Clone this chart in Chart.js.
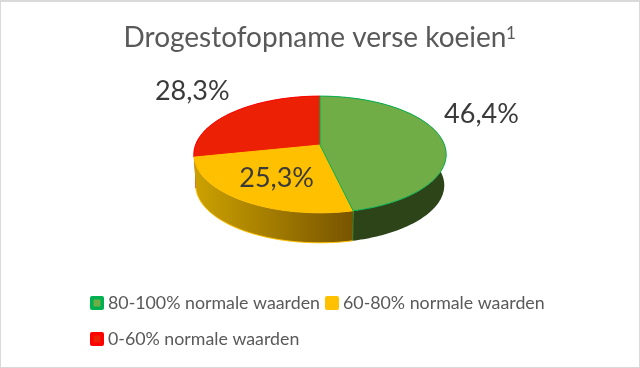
<!DOCTYPE html>
<html>
<head>
<meta charset="utf-8">
<style>
html,body{margin:0;padding:0;background:#fff;}
#w{position:relative;width:640px;height:368px;overflow:hidden;}
#w:after{content:"";position:absolute;inset:0;border:1px solid #d9d9d9;border-top-width:2px;pointer-events:none;}
canvas{display:block;}
</style>
<script src="https://cdn.jsdelivr.net/npm/chart.js@4"></script>
</head>
<body>
<div id="w"><canvas id="c" width="640" height="368"></canvas></div>
<script>
const categories = ["80-100% normale waarden", "60-80% normale waarden", "0-60% normale waarden"];
const values = [46.4, 25.3, 28.3];
const valueLabels = ["46,4%", "25,3%", "28,3%"];
const titleText = "Drogestofopname verse koeien";
const titleNote = "1";
const faceColors = ["#70AD47", "#FFC000", "#EB2005"];
const edgeColors = ["#00B050", "#FFC000", "#FF0000"];
const FONT = "Lato, Carlito, 'Noto Sans', sans-serif";

// label placement: pixel shift from the rim/face point of each slice
const labelShift = [[40, -24], [2, 1], [-40, -21]];
const labelRadial = [1, 0.62, 1];

// perspective of the tilted pie
const P = { k: 0.162, sy: 0.4565, depth: 31, baseScale: 0.985 };

function project(el, th, base) {
  const u = Math.cos(th), v = -Math.sin(th);
  const R = el.__R, s = base ? P.baseScale : 1;
  const w = 1 + P.k * v;
  return [el.x + R * s * u / w, el.__y0 + (base ? P.depth : 0) - R * P.sy * s * v / w];
}
function arcPts(el, a0, a1, base) {
  const n = Math.max(4, Math.ceil(Math.abs(a1 - a0) / 0.02)), pts = [];
  for (let i = 0; i <= n; i++) pts.push(project(el, a0 + (a1 - a0) * i / n, base));
  return pts;
}

const tiltedPie = {
  id: "tiltedPie",
  beforeDatasetsDraw(chart) {
    const ctx = chart.ctx, arcs = chart.getDatasetMeta(0).data;
    const els = arcs.map(a => {
      const p = a.getProps(["x", "y", "startAngle", "endAngle", "outerRadius"]);
      p.__R = 124.5; p.x = chart.width / 2; p.__y0 = 145;
      return p;
    });
    const walls = ["#2D4419", null, "#B01800"];
    [2, 0, 1].forEach(i => {
      const e = els[i];
      const top = arcPts(e, e.startAngle, e.endAngle, false);
      const botF = arcPts(e, e.startAngle, e.endAngle, true);
      const bot = botF.slice().reverse();
      ctx.beginPath();
      top.concat(bot).forEach((p, j) => j ? ctx.lineTo(p[0], p[1]) : ctx.moveTo(p[0], p[1]));
      ctx.closePath();
      if (i === 1) {
        const xs = botF.map(p => p[0]);
        const g = ctx.createLinearGradient(Math.min(...xs), 0, Math.max(...xs), 0);
        g.addColorStop(0, "#CBA100");
        g.addColorStop(1, "#785400");
        ctx.fillStyle = g;
      } else ctx.fillStyle = walls[i];
      ctx.fill();
      ctx.strokeStyle = edgeColors[i];
      ctx.lineWidth = 1;
      if (i !== 0) {
        ctx.beginPath();
        bot.forEach((p, j) => j ? ctx.lineTo(p[0], p[1]) : ctx.moveTo(p[0], p[1]));
        ctx.stroke();
      } else {
        ctx.beginPath();
        ctx.moveTo(top[top.length - 1][0], top[top.length - 1][1]);
        ctx.lineTo(bot[0][0], bot[0][1]);
        ctx.stroke();
      }
    });
    [2, 1, 0].forEach(i => {
      const e = els[i];
      const top = arcPts(e, e.startAngle, e.endAngle, false);
      ctx.beginPath();
      ctx.moveTo(e.x, e.__y0);
      top.forEach(p => ctx.lineTo(p[0], p[1]));
      ctx.closePath();
      ctx.fillStyle = faceColors[i];
      ctx.fill();
      ctx.strokeStyle = edgeColors[i];
      ctx.lineWidth = 1;
      ctx.stroke();
    });
    ctx.fillStyle = "#3A3A3A";
    ctx.font = "27px " + FONT;
    ctx.textAlign = "center";
    ctx.textBaseline = "middle";
    els.forEach((e, i) => {
      const mid = (e.startAngle + e.endAngle) / 2;
      const u = Math.cos(mid) * labelRadial[i], v = -Math.sin(mid) * labelRadial[i];
      const w = 1 + P.k * v;
      const x = e.x + e.__R * u / w + labelShift[i][0];
      const y = e.__y0 - e.__R * P.sy * v / w + labelShift[i][1];
      ctx.fillText(valueLabels[i], x, y);
    });
    return false;
  },
  afterDraw(chart) {
    const ctx = chart.ctx;
    ctx.save();
    ctx.font = "17.8px " + FONT;
    ctx.textBaseline = "middle";
    ctx.textAlign = "left";
    const rows = [[90, 303], [325, 303], [90, 339]];
    categories.forEach((t, i) => {
      const [x, y] = rows[i];
      ctx.fillStyle = edgeColors[i];
      ctx.beginPath();
      ctx.roundRect(x, y - 7, 14, 14, 2);
      ctx.fill();
      ctx.fillStyle = faceColors[i];
      ctx.fillRect(x + 3.5, y - 3.5, 7, 7);
      ctx.fillStyle = "#595959";
      ctx.fillText(t, x + 18, y);
    });
    ctx.fillStyle = "#595959";
    ctx.font = "17px " + FONT;
    ctx.textBaseline = "alphabetic";
    ctx.fillText(titleNote, 506, 39);
    ctx.restore();
  }
};

new Chart(document.getElementById("c"), {
  type: "pie",
  data: {
    labels: categories,
    datasets: [{ data: values, backgroundColor: faceColors, borderColor: edgeColors, borderWidth: 1 }]
  },
  options: {
    responsive: false,
    animation: false,
    layout: { padding: { top: 0, bottom: 90, right: 10 } },
    plugins: {
      legend: { display: false },
      tooltip: { enabled: false },
      title: {
        display: true,
        text: titleText,
        color: "#595959",
        font: { family: FONT, size: 28, weight: "normal" },
        padding: { top: 21, bottom: 10 }
      }
    }
  },
  plugins: [tiltedPie]
});
</script>
</body>
</html>
